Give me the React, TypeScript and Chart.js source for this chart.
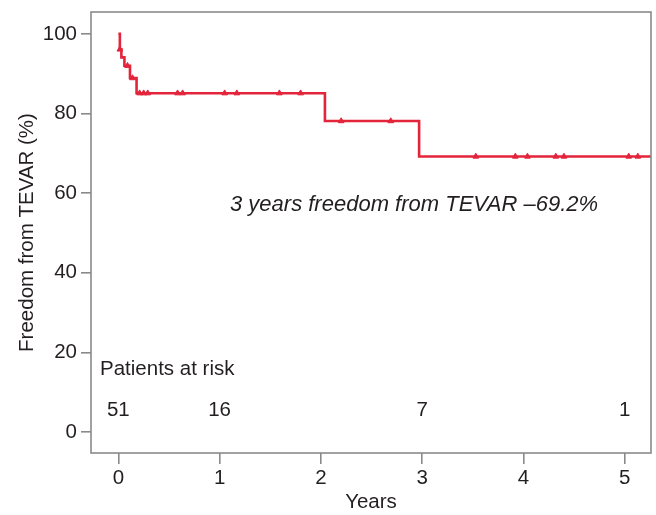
import React, { useEffect, useRef } from "react";
import { Chart, registerables } from "chart.js";

Chart.register(...registerables);

// Kaplan-Meier curve (event times in years, freedom in %)
const kmTimes = [0, 0.015, 0.03, 0.06, 0.115, 0.18, 2.04, 2.97, 5.26];
const kmFreedom = [100, 96.1, 94.1, 92.0, 88.9, 85.1, 78.1, 69.2, 69.2];

// censored observations
const censorTimes = [0.015, 0.09, 0.14, 0.21, 0.25, 0.29, 0.585, 0.635, 1.05, 1.17, 1.59, 1.8, 2.2, 2.69, 3.53, 3.92, 4.04, 4.32, 4.4, 5.04, 5.13];
const censorFreedom = [96.1, 92.0, 88.9, 85.1, 85.1, 85.1, 85.1, 85.1, 85.1, 85.1, 85.1, 85.1, 78.1, 78.1, 69.2, 69.2, 69.2, 69.2, 69.2, 69.2, 69.2];

// numbers at risk
const riskTimes = [0, 1, 3, 5];
const riskCounts = [51, 16, 7, 1];

const xTicks = [0, 1, 2, 3, 4, 5];
const yTicks = [0, 20, 40, 60, 80, 100];

const annotationText = "3 years freedom from TEVAR \u201369.2%";
const riskTitle = "Patients at risk";

const RED = "#e3243a";
const GRAY = "#8a8a8a";
const TEXT = "#231f20";
const FONT = "'Liberation Sans', Arial, Helvetica, sans-serif";

export default function App() {
  const ref = useRef<HTMLCanvasElement | null>(null);

  useEffect(() => {
    if (!ref.current) return;
    const overlay = {
      id: "overlay",
      afterDraw(chart: any) {
        const { ctx, chartArea, scales } = chart;
        ctx.save();
        ctx.strokeStyle = GRAY;
        ctx.lineWidth = 1.6;
        ctx.strokeRect(chartArea.left, chartArea.top, chartArea.right - chartArea.left, chartArea.bottom - chartArea.top);
        ctx.fillStyle = TEXT;
        ctx.textBaseline = "middle";
        ctx.textAlign = "left";
        ctx.font = `20.5px ${FONT}`;
        ctx.fillText(riskTitle, chartArea.left + 9, 369);
        ctx.textAlign = "center";
        riskTimes.forEach((t, i) => {
          ctx.fillText(String(riskCounts[i]), scales.x.getPixelForValue(t), 410);
        });
        ctx.textAlign = "left";
        ctx.font = `italic 22px ${FONT}`;
        ctx.fillText(annotationText, 230, 205);
        ctx.restore();
      },
    };

    const chart = new Chart(ref.current, {
      type: "line",
      data: {
        datasets: [
          {
            data: kmTimes.map((t, i) => ({ x: t, y: kmFreedom[i] })),
            borderColor: RED,
            borderWidth: 2.6,
            stepped: true,
            pointRadius: 0,
            fill: false,
          },
          {
            type: "scatter",
            data: censorTimes.map((t, i) => ({ x: t, y: censorFreedom[i] })),
            pointStyle: "triangle",
            pointRadius: 3.3,
            backgroundColor: RED,
            borderColor: RED,
            borderWidth: 1,
            showLine: false,
          },
        ],
      } as any,
      options: {
        animation: false,
        responsive: false,
        devicePixelRatio: 1,
        layout: { padding: { top: 12, right: 3, left: 0, bottom: 0 } },
        plugins: { legend: { display: false }, tooltip: { enabled: false } },
        scales: {
          x: {
            type: "linear",
            min: -0.27,
            max: 5.26,
            afterFit: (s: any) => {
              s.height = 62;
              s.paddingLeft = 0;
              s.paddingRight = 0;
            },
            afterBuildTicks: (s: any) => {
              s.ticks = xTicks.map((v) => ({ value: v }));
            },
            border: { display: false },
            grid: { drawOnChartArea: false, drawTicks: true, tickLength: 11, color: GRAY, lineWidth: 1.6 },
            ticks: { color: TEXT, font: { size: 20.5, family: FONT }, padding: 2, maxRotation: 0 },
            title: { display: true, text: "Years", color: TEXT, font: { size: 20.5, family: FONT }, padding: { top: 0, bottom: 0 } },
          },
          y: {
            type: "linear",
            min: -5.3,
            max: 105.5,
            afterFit: (s: any) => {
              s.width = 91;
              s.paddingTop = 0;
              s.paddingBottom = 0;
            },
            afterBuildTicks: (s: any) => {
              s.ticks = yTicks.map((v) => ({ value: v }));
            },
            border: { display: false },
            grid: { drawOnChartArea: false, drawTicks: true, tickLength: 10, color: GRAY, lineWidth: 1.6 },
            ticks: { color: TEXT, font: { size: 20.5, family: FONT }, padding: 4 },
            title: { display: true, text: "Freedom from TEVAR (%)", color: TEXT, font: { size: 20.5, family: FONT }, padding: { top: 15, bottom: 0 } },
          },
        },
      } as any,
      plugins: [overlay],
    });
    return () => chart.destroy();
  }, []);

  return (
    <div style={{ position: "absolute", left: 0, top: 0, width: 656, height: 515, background: "#fff" }}>
      <canvas ref={ref} width={656} height={515} style={{ width: 656, height: 515, display: "block" }} />
    </div>
  );
}
